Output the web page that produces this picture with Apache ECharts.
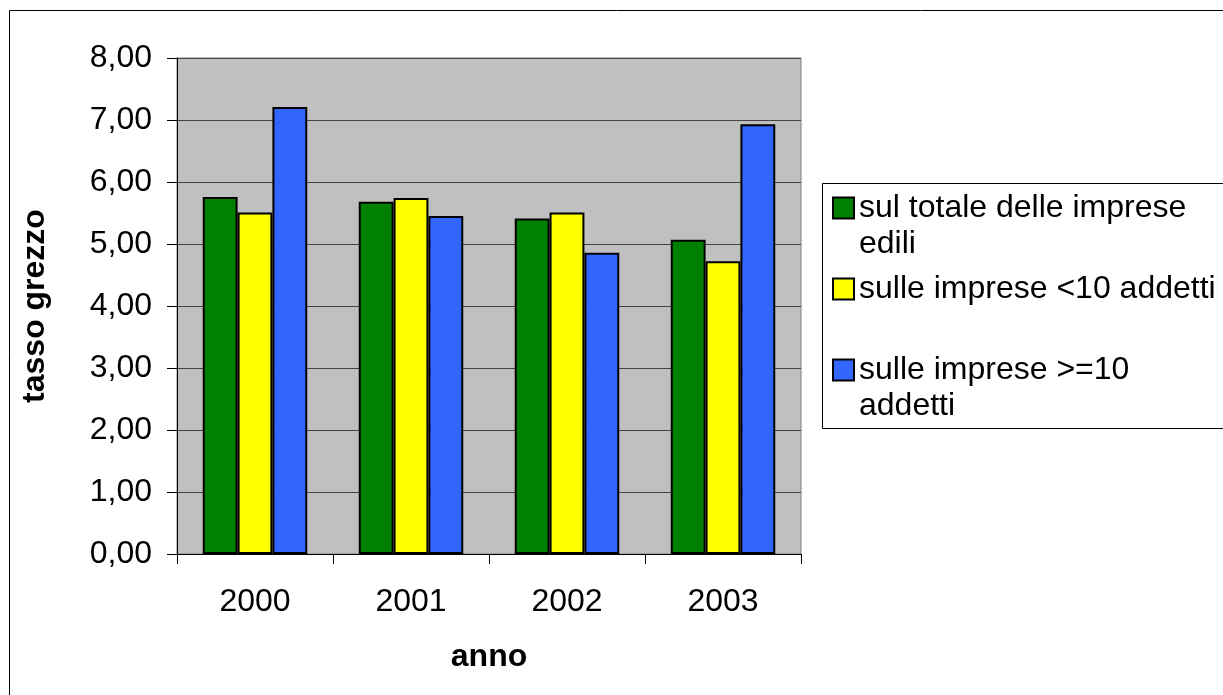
<!DOCTYPE html>
<html>
<head>
<meta charset="utf-8">
<script src="https://cdn.jsdelivr.net/npm/echarts@6/dist/echarts.min.js"></script>
<style>
html,body{margin:0;padding:0;background:#fff;}
#c{width:1223px;height:695px;}
</style>
</head>
<body>
<div id="c"></div>
<script>
var categories = ['2000', '2001', '2002', '2003'];
var seriesNames = ['sul totale delle imprese edili', 'sulle imprese <10 addetti', 'sulle imprese >=10 addetti'];
var legendLabels = ['sul totale delle imprese\nedili', 'sulle imprese <10 addetti', 'sulle imprese >=10\naddetti'];
var totale = [5.76, 5.68, 5.41, 5.07];
var piccole = [5.51, 5.74, 5.51, 4.72];
var grandi = [7.21, 5.45, 4.86, 6.93];
var yTicks = [0, 1, 2, 3, 4, 5, 6, 7, 8];
var colors = ['#008000', '#FFFF00', '#3366FF'];

var FONT = 'Liberation Sans, Arial, sans-serif';
var LH = 36;
var chart = echarts.init(document.getElementById('c'), null, {renderer: 'canvas'});

function legendFor(i, iconCenter) {
  var twoLines = legendLabels[i].indexOf('\n') >= 0;
  return {
    show: true,
    orient: 'vertical',
    left: 832,
    top: twoLines ? iconCenter - 1.5 * LH : iconCenter - 0.5 * LH,
    padding: 0,
    itemWidth: 21,
    itemHeight: 21,
    icon: 'rect',
    selectedMode: false,
    data: [seriesNames[i]],
    formatter: function () { return twoLines ? '\u00a0\n' + legendLabels[i] : legendLabels[i]; },
    textStyle: {fontFamily: FONT, fontSize: 32, color: '#000', lineHeight: LH}
  };
}

var option = {
  backgroundColor: '#fff',
  animation: false,
  graphic: [
    {type: 'rect', shape: {x: 9.5, y: 10.5, width: 1300, height: 800}, style: {fill: 'none', stroke: '#000', lineWidth: 1}, z: -10},
    {type: 'rect', shape: {x: 822.5, y: 183.5, width: 500, height: 245}, style: {fill: '#fff', stroke: '#000', lineWidth: 1}, z: -5}
  ],
  legend: [
    legendFor(0, 208),
    legendFor(1, 289),
    legendFor(2, 370)
  ],
  grid: {
    left: 177, right: 422, top: 58, bottom: 141,
    show: true, backgroundColor: '#C0C0C0', borderColor: '#808080', borderWidth: 1
  },
  xAxis: {
    type: 'category',
    data: categories,
    name: 'anno',
    nameLocation: 'middle',
    nameGap: 87,
    nameTextStyle: {fontFamily: FONT, fontSize: 32, fontWeight: 'bold', color: '#000'},
    axisLine: {lineStyle: {color: '#000', width: 1}},
    axisTick: {show: true, alignWithLabel: false, length: 10, lineStyle: {color: '#000'}},
    axisLabel: {fontFamily: FONT, fontSize: 32, color: '#000', margin: 32},
    splitLine: {show: false}
  },
  yAxis: {
    type: 'value',
    min: 0, max: 8, interval: 1,
    name: 'tasso grezzo',
    nameLocation: 'middle',
    nameGap: 126,
    nameTextStyle: {fontFamily: FONT, fontSize: 32, fontWeight: 'bold', color: '#000'},
    axisLine: {show: true, lineStyle: {color: '#000', width: 1}},
    axisTick: {show: true, inside: false, length: 10, lineStyle: {color: '#000'}},
    axisLabel: {
      fontFamily: FONT, fontSize: 32, color: '#000', margin: 25,
      formatter: function (v) { return yTicks.indexOf(v) >= 0 ? v.toFixed(2).replace('.', ',') : ''; }
    },
    splitLine: {show: true, lineStyle: {color: '#444', width: 1}}
  },
  series: [
    {name: seriesNames[0], type: 'bar', data: totale, barGap: '0%', barCategoryGap: '33%',
     itemStyle: {color: colors[0], borderColor: '#000', borderWidth: 2}},
    {name: seriesNames[1], type: 'bar', data: piccole, barGap: '0%', barCategoryGap: '33%',
     itemStyle: {color: colors[1], borderColor: '#000', borderWidth: 2}},
    {name: seriesNames[2], type: 'bar', data: grandi, barGap: '0%', barCategoryGap: '33%',
     itemStyle: {color: colors[2], borderColor: '#000', borderWidth: 2}}
  ]
};
chart.setOption(option);
</script>
</body>
</html>
